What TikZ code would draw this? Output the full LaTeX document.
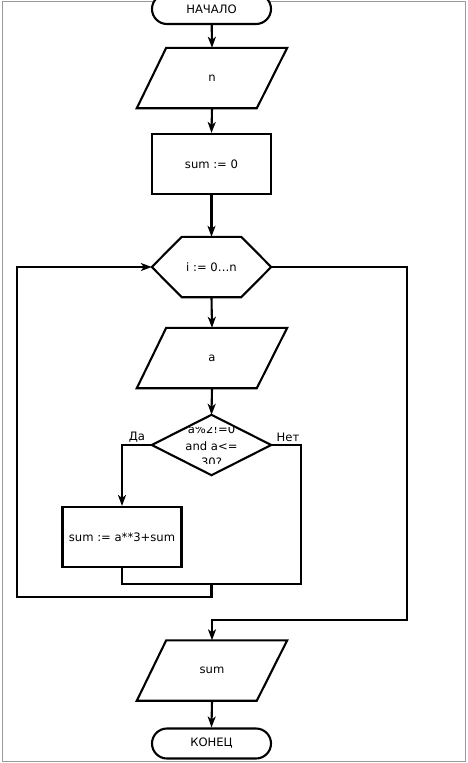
\documentclass[tikz,border=0pt]{standalone}
\usepackage{fontspec}
\setmainfont{DejaVu Sans}
\usetikzlibrary{arrows.meta}
\begin{document}
\begin{tikzpicture}[x=1pt,y=-1pt,
  ln/.style={line width=2.1pt},
  arr/.style={ln,-{Stealth[length=11pt,width=8pt,inset=3pt]}},
  lbl/.style={font=\fontsize{11.6}{13}\selectfont},
  frame/.style={inner sep=0pt,minimum width=119,minimum height=60,lbl},
  pframe/.style={inner sep=0pt,minimum width=150,minimum height=60,lbl},
  term/.style={draw,ln,fill=white,rounded corners=15pt,inner sep=0pt,minimum width=119,minimum height=30,lbl}]
\useasboundingbox (0,0) rectangle (467,763);
\draw[gray!80,line width=1pt] (2,1) rectangle (465,761);
% nodes
\node[term] (start) at (211.5,9) {НАЧАЛО};
\node[pframe] (n) at (212,78) {n};
\draw[ln] (n.south west) -- ++(120,0) -- (n.north east) -- ++(-121,0) -- cycle;
\node[frame,draw,ln] (s0) at (211.5,164) {sum := 0};
\node[frame] (loop) at (211.5,267) {i := 0…n};
\draw[ln] (loop.west) -- ([xshift=30]loop.north west) -- ([xshift=-30]loop.north east) -- (loop.east) -- ([xshift=-30]loop.south east) -- ([xshift=30]loop.south west) -- cycle;
\node[pframe] (a) at (212,358) {a};
\draw[ln] (a.south west) -- ++(120,0) -- (a.north east) -- ++(-121,0) -- cycle;
\node[frame] (cond) at (211.5,445) {};
\draw[ln] (cond.west) -- (cond.north) -- (cond.east) -- (cond.south) -- cycle;
\begin{scope}
\clip (150,427) rectangle (275,463.5);
\node[lbl,align=center,font=\fontsize{11.6}{16.5}\selectfont] (ctext) at (211.5,446) {a\%2!=0\\and a<=\\30?};
\end{scope}
\node[frame,draw,ln] (body) at (122,537) {sum := a**3+sum};
\node[pframe] (out) at (212,670.5) {sum};
\draw[ln] (out.south west) -- ++(120,0) -- (out.north east) -- ++(-121,0) -- cycle;
\node[term] (end) at (211.5,743.5) {КОНЕЦ};
% labels
\node[lbl] (yes) at (137,437) {Да};
\node[lbl] (no) at (288,437) {Нет};
% coordinates
\coordinate (j1) at (301,584);
\coordinate (j2) at (211.5,584);
\coordinate (j3) at (17,597);
\coordinate (j4) at (407,620);
% connectors
\draw[arr] (start) -- (n.north);
\draw[arr] (n.south) -- (s0.north);
\draw[arr] (s0.south) -- (loop.north);
\draw[arr] (loop.south) -- (a.north);
\draw[arr] (a.south) -- (cond.north);
\draw[arr] (cond.west) -| (body.north);
\draw[ln] (cond.east) -| (j1) -| (body.south);
\draw[arr] (j2) |- (j3) |- (loop.west);
\draw[arr] (loop.east) -| (j4) -| (out.north);
\draw[arr] (out.south) -- (end.north);
\end{tikzpicture}
\end{document}
